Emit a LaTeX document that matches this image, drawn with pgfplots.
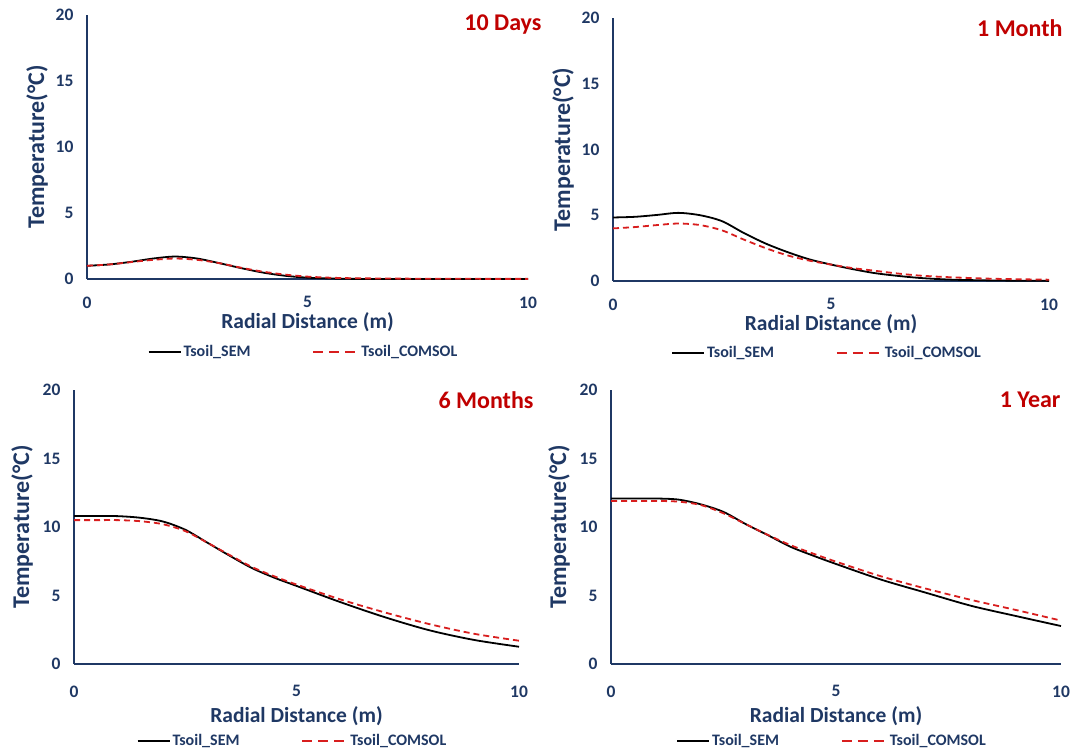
\documentclass[border=0pt]{standalone}
\usepackage{pgfplots}
\pgfplotsset{compat=1.18}
\usepackage{fontspec}
\setmainfont{Carlito}
\definecolor{navy}{HTML}{1F3864}
\definecolor{dred}{HTML}{C00000}
\definecolor{lred}{HTML}{D81E1E}
\tikzset{ttl/.style={anchor=east, font=\fontsize{24}{28}\selectfont\bfseries, text=dred}}
\pgfplotsset{
 panel/.style={
  scale only axis, xmin=0, xmax=10, ymin=0, ymax=20,
  axis x line*=bottom, axis y line*=left,
  axis line style={navy, line width=1.6pt, -},
  xtick={0,5,10}, ytick={0,5,10,15,20}, major tick length=0pt,
  tick label style={font=\fontsize{17.5}{19}\selectfont\bfseries, text=navy},
  yticklabel style={xshift=-10pt},
  xticklabel style={yshift=-14pt},
  /pgf/number format/assume math mode=true,
  xlabel={Radial Distance (m)}, ylabel={Temperature(°C)},
  xlabel style={font=\fontsize{21.5}{24}\selectfont\bfseries, text=navy},
  ylabel style={font=\fontsize{24}{26}\selectfont\bfseries, text=navy},
  legend columns=2,
  legend style={draw=none, fill=none, font=\fontsize{16}{18}\selectfont\bfseries, text=navy,
    at={(0.5,0)}, anchor=center, xshift=-4pt, /tikz/every even column/.append style={column sep=60pt}},
  clip=false,
 },
 sem/.style={black, line width=1.8pt, smooth,
   legend image code/.code={\draw[black, line width=1.8pt] (0pt,0pt) -- (32pt,0pt);}},
 com/.style={lred, line width=1.8pt, smooth, dash pattern=on 6pt off 4pt,
   legend image code/.code={\draw[lred, line width=1.8pt, dash pattern=on 10pt off 6pt] (0pt,0pt) -- (45pt,0pt);}},
}
\begin{document}
\begin{tikzpicture}
\useasboundingbox (0,0) rectangle (1075pt,751pt);
% ---------- 10 Days ----------
\begin{axis}[panel, at={(87pt,472pt)}, anchor=south west, width=441pt, height=264pt,
  xlabel style={at={([yshift=-43pt]axis description cs:0.5,0)}, anchor=center},
  ylabel style={at={([xshift=-50pt]axis description cs:0,0.5)}, anchor=center},
  legend style={yshift=-73pt}]
\addplot[sem] coordinates {(0,1.0) (0.5,1.1) (1,1.3) (1.5,1.55) (2,1.7) (2.5,1.55) (3,1.2) (3.5,0.82) (4,0.48) (4.5,0.24) (5,0.1) (5.5,0.04) (6,0.01) (7,0) (8,0) (9,0) (10,0)};
\addlegendentry{Tsoil\_SEM}
\addplot[com] coordinates {(0,1.0) (0.5,1.1) (1,1.28) (1.5,1.45) (2,1.55) (2.5,1.45) (3,1.2) (3.5,0.85) (4,0.55) (4.5,0.33) (5,0.18) (5.5,0.1) (6,0.06) (7,0.03) (8,0.02) (9,0.01) (10,0.01)};
\addlegendentry{Tsoil\_COMSOL}
\node[ttl] at ([xshift=17pt,yshift=-10pt]rel axis cs:1,1) {10 Days};
\end{axis}
% ---------- 1 Month ----------
\begin{axis}[panel, at={(613pt,470pt)}, anchor=south west, width=436pt, height=263pt,
  xlabel style={at={([yshift=-43pt]axis description cs:0.5,0)}, anchor=center},
  ylabel style={at={([xshift=-50pt]axis description cs:0,0.5)}, anchor=center},
  legend style={yshift=-72pt}]
\addplot[sem] coordinates {(0,4.83) (0.5,4.88) (1,5.02) (1.5,5.18) (2,5.0) (2.5,4.55) (3,3.65) (3.5,2.85) (4,2.2) (4.5,1.65) (5,1.25) (5.5,0.9) (6,0.6) (6.5,0.4) (7,0.24) (7.5,0.14) (8,0.08) (9,0.03) (10,0.01)};
\addlegendentry{Tsoil\_SEM}
\addplot[com] coordinates {(0,4.0) (0.5,4.1) (1,4.25) (1.5,4.37) (2,4.25) (2.5,3.85) (3,3.15) (3.5,2.5) (4,1.95) (4.5,1.55) (5,1.25) (5.5,0.98) (6,0.78) (6.5,0.58) (7,0.42) (7.5,0.32) (8,0.25) (8.5,0.19) (9,0.15) (10,0.1)};
\addlegendentry{Tsoil\_COMSOL}
\node[ttl] at ([xshift=17pt,yshift=-10pt]rel axis cs:1,1) {1 Month};
\end{axis}
% ---------- 6 Months ----------
\begin{axis}[panel, at={(74pt,87pt)}, anchor=south west, width=445pt, height=274pt,
  xlabel style={at={([yshift=-52pt]axis description cs:0.5,0)}, anchor=center},
  ylabel style={at={([xshift=-52pt]axis description cs:0,0.5)}, anchor=center},
  xticklabel style={yshift=-4pt},
  legend style={yshift=-77pt}]
\addplot[sem] coordinates {(0,10.8) (0.5,10.8) (1,10.79) (1.5,10.67) (2,10.4) (2.5,9.8) (3,8.85) (3.5,7.9) (4,7.0) (4.5,6.3) (5,5.7) (6,4.5) (7,3.4) (8,2.45) (9,1.75) (10,1.26)};
\addlegendentry{Tsoil\_SEM}
\addplot[com] coordinates {(0,10.5) (0.5,10.5) (1,10.5) (1.5,10.42) (2,10.2) (2.5,9.7) (3,8.85) (3.5,7.95) (4,7.08) (4.5,6.4) (5,5.8) (6,4.7) (7,3.75) (8,2.9) (9,2.2) (10,1.7)};
\addlegendentry{Tsoil\_COMSOL}
\node[ttl] at ([xshift=18pt,yshift=-10pt]rel axis cs:1,1) {6 Months};
\end{axis}
% ---------- 1 Year ----------
\begin{axis}[panel, at={(611pt,87pt)}, anchor=south west, width=450pt, height=274pt,
  xlabel style={at={([yshift=-52pt]axis description cs:0.5,0)}, anchor=center},
  ylabel style={at={([xshift=-52pt]axis description cs:0,0.5)}, anchor=center},
  xticklabel style={yshift=-4pt},
  legend style={yshift=-77pt}]
\addplot[sem] coordinates {(0,12.08) (0.5,12.08) (1,12.08) (1.5,12.0) (2,11.65) (2.5,11.1) (3,10.2) (3.5,9.38) (4,8.54) (4.5,7.9) (5,7.3) (6,6.16) (7,5.2) (8,4.25) (9,3.5) (10,2.77)};
\addlegendentry{Tsoil\_SEM}
\addplot[com] coordinates {(0,11.9) (0.5,11.9) (1,11.9) (1.5,11.85) (2,11.6) (2.5,11.0) (3,10.2) (3.5,9.4) (4,8.66) (4.5,8.05) (5,7.47) (6,6.4) (7,5.5) (8,4.68) (9,3.94) (10,3.17)};
\addlegendentry{Tsoil\_COMSOL}
\node[ttl] at ([xshift=3pt,yshift=-10pt]rel axis cs:1,1) {1 Year};
\end{axis}
\end{tikzpicture}
\end{document}
